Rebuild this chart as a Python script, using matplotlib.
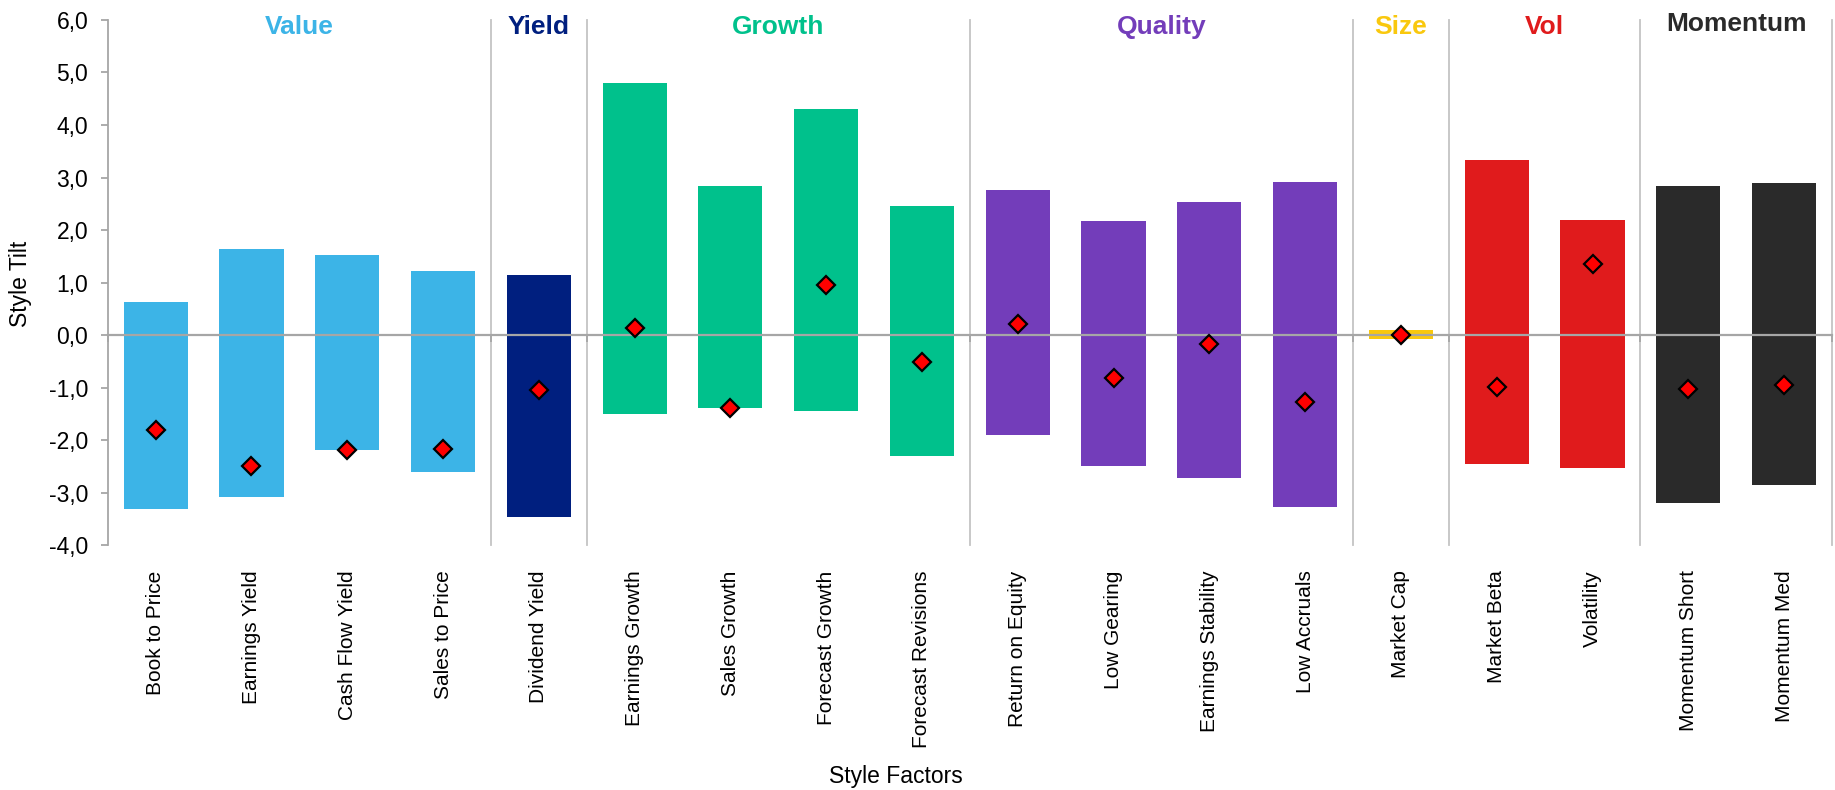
import numpy as np
import matplotlib
matplotlib.use("Agg")
import matplotlib.pyplot as plt

plt.rcParams['font.family'] = ['Liberation Sans', 'DejaVu Sans']

# Style factor tilt ranges (min / max) and the current tilt
factors = ['Book to Price', 'Earnings Yield', 'Cash Flow Yield', 'Sales to Price',
           'Dividend Yield',
           'Earnings Growth', 'Sales Growth', 'Forecast Growth', 'Forecast Revisions',
           'Return on Equity', 'Low Gearing', 'Earnings Stability', 'Low Accruals',
           'Market Cap',
           'Market Beta', 'Volatility',
           'Momentum Short', 'Momentum Med']
low = [-3.31, -3.08, -2.19, -2.61,
       -3.47,
       -1.50, -1.39, -1.45, -2.30,
       -1.90, -2.49, -2.72, -3.27,
       -0.08,
       -2.45, -2.52,
       -3.19, -2.85]
high = [0.63, 1.64, 1.53, 1.23,
        1.15,
        4.79, 2.83, 4.30, 2.45,
        2.77, 2.18, 2.54, 2.91,
        0.09,
        3.33, 2.19,
        2.84, 2.89]
current = [-1.81, -2.49, -2.19, -2.16,
           -1.04,
           0.13, -1.39, 0.96, -0.51,
           0.21, -0.81, -0.16, -1.27,
           0.0,
           -0.98, 1.36,
           -1.03, -0.95]

group_names = ['Value', 'Yield', 'Growth', 'Quality', 'Size', 'Vol', 'Momentum']
group_sizes = [4, 1, 4, 4, 1, 2, 2]
group_colors = ['#3CB4E7', '#001F7F', '#00C18C', '#733DBA', '#F9C80E', '#E01B1C', '#2A2A2A']

yticks = [-4, -3, -2, -1, 0, 1, 2, 3, 4, 5, 6]

x = np.arange(len(factors))
low = np.array(low)
high = np.array(high)
bar_colors = np.repeat(group_colors, group_sizes)
edges = np.cumsum(group_sizes) - 0.5
starts = edges - np.array(group_sizes)

fig = plt.figure(figsize=(18.35, 7.9), dpi=100)
ax = fig.add_axes([0.0587, 0.3097, 0.9397, 0.6651])

ax.bar(x, high - low, bottom=low, width=0.67, color=bar_colors, zorder=1)
ax.plot(x, current, 'D', ms=9.5, mfc='#FF0000', mec='black', mew=1.6, zorder=4)

# group separators
for e in edges:
    ax.axvline(e, color='#C4C4C4', lw=1.3, zorder=0.5, clip_on=False)

# group titles
for name, s, e, c in zip(group_names, starts, edges, group_colors):
    yy = 5.93 if name == 'Momentum' else 5.86
    ax.text((s + e) / 2, yy, name, color=c, fontsize=19, fontweight='bold',
            ha='center', va='center')

ax.set_xlim(-0.5, len(factors) - 0.5)
ax.set_ylim(-4, 6)

# zero axis with boundary ticks
ax.spines['bottom'].set_position(('data', 0))
ax.spines['bottom'].set_color('#A6A6A6')
ax.spines['bottom'].set_linewidth(1.6)
ax.spines['bottom'].set_zorder(3)
ax.set_xticks(np.concatenate(([-0.5], edges)))
ax.tick_params(axis='x', direction='out', length=5, width=1.3, color='#A6A6A6',
               labelbottom=False)

ax.spines['left'].set_color('#A6A6A6')
ax.spines['left'].set_linewidth(1.3)
ax.spines['top'].set_visible(False)
ax.spines['right'].set_visible(False)
ax.set_yticks(yticks)
ax.set_yticklabels([f"{v:.1f}".replace('.', ',') for v in yticks])
ax.tick_params(axis='y', direction='out', length=5, width=1.3, color='#A6A6A6',
               labelsize=16.5, pad=9)

# category labels along the bottom
sec = ax.secondary_xaxis(0)
sec.set_xticks(x, labels=factors, rotation=90, fontsize=15)
sec.tick_params(length=0, pad=18)
sec.spines['bottom'].set_visible(False)

fig.text(20 / 1835, 1 - 284 / 790, 'Style Tilt', rotation=90, fontsize=16.5,
         ha='center', va='center')
fig.text(896 / 1835, 1 - 776 / 790, 'Style Factors', fontsize=16.5,
         ha='center', va='center')

fig.savefig('out.png', dpi=100)
